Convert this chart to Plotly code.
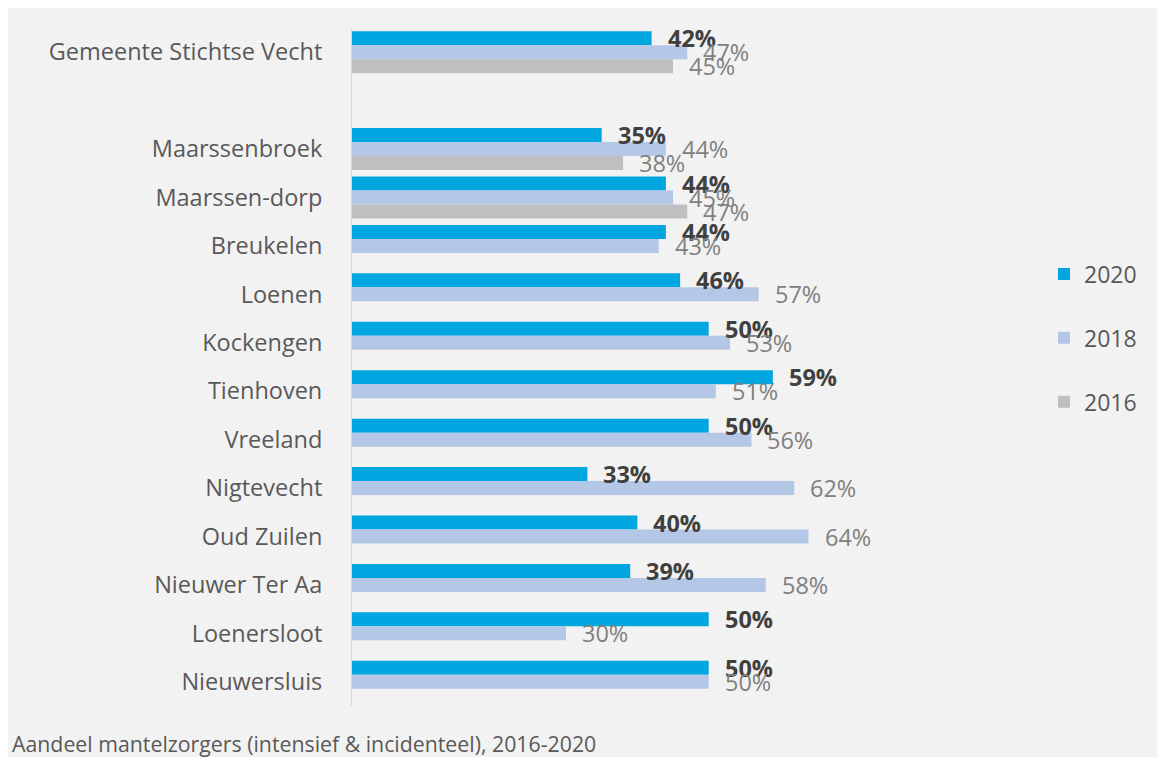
import plotly.graph_objects as go

categories = ["Gemeente Stichtse Vecht", " ", "Maarssenbroek", "Maarssen-dorp", "Breukelen",
              "Loenen", "Kockengen", "Tienhoven", "Vreeland", "Nigtevecht", "Oud Zuilen",
              "Nieuwer Ter Aa", "Loenersloot", "Nieuwersluis"]
values_2020 = [42, None, 35, 44, 44, 46, 50, 59, 50, 33, 40, 39, 50, 50]
values_2018 = [47, None, 44, 45, 43, 57, 53, 51, 56, 62, 64, 58, 30, 50]
values_2016 = [45, None, 38, 47, None, None, None, None, None, None, None, None, None, None]
series_names = ["2020", "2018", "2016"]
caption = "Aandeel mantelzorgers (intensief & incidenteel), 2016-2020"

colors = ["#00A6DF", "#B4C7E7", "#BFBFBF"]
label_fonts = [
    dict(family="Open Sans", size=23.5, color="#404040", weight="bold"),
    dict(family="Open Sans", size=23.5, color="#808080"),
    dict(family="Open Sans", size=23.5, color="#808080"),
]
label_yshift = [14, 0, -14]

# page has an 8px body margin; figure is sized/offset to fit the window
OFF = 8
W, H = 1165 - OFF, 757 - OFF
L, T = 352 - OFF, 28 - OFF
R = W - (994 - OFF)
B = H - (706 - OFF)
pw, ph = W - L - R, H - T - B

def px_x(x):
    return (x - OFF - L) / pw

def px_y(y):
    return (H - B - (y - OFF)) / ph

fig = go.Figure()
for name, vals, col in zip(series_names, [values_2020, values_2018, values_2016], colors):
    fig.add_trace(go.Bar(
        name=name, y=categories, x=vals, orientation="h",
        marker=dict(color=col, line=dict(width=0)),
        legendgroup=name, hoverinfo="x+y+name",
    ))

annotations = []
for vals, lf, ys in zip([values_2020, values_2018, values_2016], label_fonts, label_yshift):
    for cat, v in zip(categories, vals):
        if v is None:
            continue
        annotations.append(dict(
            x=v, y=cat, xref="x", yref="y", text=f"{v}%",
            xanchor="left", yanchor="middle", xshift=14, yshift=ys,
            showarrow=False, font=lf,
        ))

annotations.append(dict(
    text=caption, xref="paper", yref="paper",
    x=px_x(10), y=px_y(743), xanchor="left", yanchor="middle",
    showarrow=False, font=dict(size=21.3, color="#595959", family="Open Sans"),
))

fig.update_layout(
    width=W, height=H,
    margin=dict(l=L, r=R, t=T, b=B, autoexpand=False),
    barmode="group", bargap=0.133, bargroupgap=0,
    paper_bgcolor="#F2F2F2", plot_bgcolor="rgba(0,0,0,0)",
    font=dict(family="Open Sans", color="#595959"),
    showlegend=True,
    legend=dict(
        x=px_x(1044), y=px_y(338), xanchor="left", yanchor="middle",
        traceorder="grouped", tracegroupgap=31,
        font=dict(size=23, color="#595959", family="Open Sans"),
        bgcolor="rgba(0,0,0,0)",
    ),
    xaxis=dict(range=[0, 90], visible=False, showgrid=False, zeroline=False),
    yaxis=dict(
        categoryorder="array", categoryarray=categories,
        range=[len(categories) - 0.5, -0.5], autorange=False,
        showline=True, linecolor="#D9D9D9", linewidth=1,
        showgrid=False, zeroline=False, ticks="",
        ticklabelstandoff=24,
        tickfont=dict(size=23.5, color="#595959", family="Open Sans"),
    ),
    annotations=annotations,
)

fig.write_html("out.html")
